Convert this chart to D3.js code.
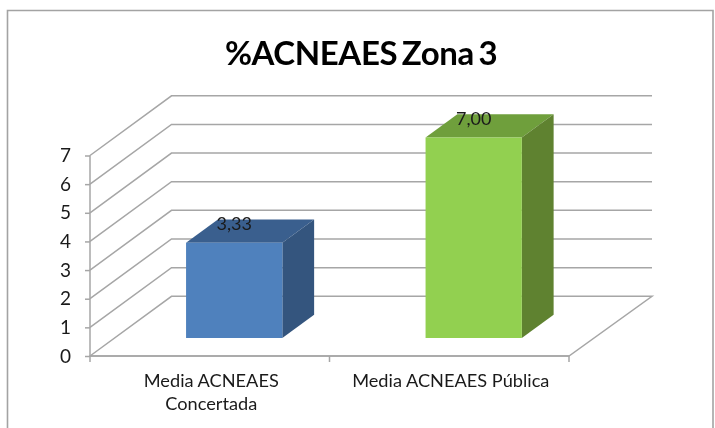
<!DOCTYPE html>
<html>
<head>
<meta charset="utf-8">
<script src="https://cdn.jsdelivr.net/npm/d3@7"></script>
<style>
body { margin: 0; background: #fff; overflow: hidden; }
svg { filter: blur(0.4px); }
text { font-family: Lato, "Open Sans", sans-serif; fill: #1a1a1a; }
.axis path { display: none; }
</style>
</head>
<body>
<script>
var categories = ["Media ACNEAES Concertada", "Media ACNEAES Pública"];
var categoryLines = [["Media ACNEAES", "Concertada"], ["Media ACNEAES Pública"]];
var values = [3.33, 7.00];
var valueLabels = ["3,33", "7,00"];
var yTicks = [0, 1, 2, 3, 4, 5, 6, 7];
var title = "%ACNEAES Zona 3";
var frontColors = ["#4f81bd", "#92d050"];
var topColors = ["#3a5f8e", "#6f9f3c"];
var sideColors = ["#34557e", "#5f8230"];

var width = 715, height = 428;
var gridColor = "#a6a6a6";

var svg = d3.select("body").append("svg")
	.attr("width", width)
	.attr("height", height);

// outer frame, runs off the bottom of the picture
svg.append("path")
	.attr("d", "M7.5,428V10.5H713V428")
	.attr("fill", "none")
	.attr("stroke", "#a3a3a3")
	.attr("stroke-width", 1.6);

svg.append("text")
	.attr("x", 361)
	.attr("y", 65)
	.attr("text-anchor", "middle")
	.attr("font-size", 33)
	.attr("font-weight", 700)
	.attr("letter-spacing", -0.4)
	.attr("word-spacing", -3)
	.style("fill", "#000")
	.text(title);

var x = d3.scaleBand()
	.domain(categories)
	.range([90, 569])
	.paddingInner(0.598)
	.paddingOuter(0.299);

var y = d3.scaleLinear()
	.domain([0, 7])
	.range([356, 155.5]);

// depth into the chart: 0 is the front edge, 1 the back wall
var depthX = d3.scaleLinear().domain([0, 1]).range([0, 81.5]);
var depthY = d3.scaleLinear().domain([0, 1]).range([0, -59.7]);
var barNear = 0.3, barFar = 0.69;

var rightEnd = 652;

// side wall and back wall lines
svg.append("g").selectAll("path")
	.data(yTicks.slice(1))
	.enter().append("path")
	.attr("d", function(d) {
		return "M" + x.range()[0] + "," + y(d) +
			"L" + (x.range()[0] + depthX(1)) + "," + (y(d) + depthY(1)) +
			"L" + rightEnd + "," + (y(d) + depthY(1));
	})
	.attr("fill", "none")
	.attr("stroke", gridColor)
	.attr("stroke-width", 1.5);

// floor
svg.append("path")
	.attr("d", "M" + x.range()[0] + "," + y(0) +
		"L" + (x.range()[0] + depthX(1)) + "," + (y(0) + depthY(1)) +
		"L" + rightEnd + "," + (y(0) + depthY(1)) +
		"L" + x.range()[1] + "," + y(0) + "Z")
	.attr("fill", "none")
	.attr("stroke", gridColor)
	.attr("stroke-width", 1.5);

// y axis
var yAxis = d3.axisLeft(y)
	.tickValues(yTicks)
	.tickSize(5)
	.tickPadding(14)
	.tickFormat(d3.format("d"));

var yG = svg.append("g")
	.attr("class", "axis")
	.attr("transform", "translate(" + x.range()[0] + ",0)")
	.call(yAxis);
yG.selectAll("text").attr("font-size", 19);
yG.selectAll("line").attr("stroke", gridColor).attr("stroke-width", 1.5);

svg.append("line")
	.attr("x1", x.range()[0]).attr("x2", x.range()[0])
	.attr("y1", y(0)).attr("y2", y(7))
	.attr("stroke", gridColor)
	.attr("stroke-width", 1.5);

// x axis, ticks sit between the categories
svg.append("line")
	.attr("x1", x.range()[0]).attr("x2", x.range()[1])
	.attr("y1", y(0)).attr("y2", y(0))
	.attr("stroke", gridColor)
	.attr("stroke-width", 1.5);

svg.append("g").selectAll("line")
	.data(d3.range(categories.length + 1))
	.enter().append("line")
	.attr("x1", function(i) { return x.range()[0] + i * x.step(); })
	.attr("x2", function(i) { return x.range()[0] + i * x.step(); })
	.attr("y1", y(0))
	.attr("y2", y(0) + 6)
	.attr("stroke", gridColor)
	.attr("stroke-width", 1.5);

var xAxis = d3.axisBottom(x).tickSize(0).tickFormat("");
var xG = svg.append("g")
	.attr("class", "axis")
	.attr("transform", "translate(1.5," + y(0) + ")")
	.call(xAxis);

xG.selectAll(".tick").each(function(d, i) {
	var t = d3.select(this).select("text")
		.attr("font-size", 18.2)
		.attr("y", 31)
		.attr("dy", 0);
	categoryLines[i].forEach(function(line, j) {
		t.append("tspan")
			.attr("x", 0)
			.attr("y", 31 + j * 23)
			.text(line);
	});
});

// bars
var bars = svg.append("g").selectAll("g")
	.data(values)
	.enter().append("g");

function corner(i, value, depth, right) {
	var px = x(categories[i]) + (right ? x.bandwidth() : 0) + depthX(depth);
	var py = y(value) + depthY(depth);
	return px + "," + py;
}

bars.append("polygon")
	.attr("points", function(d, i) {
		return [corner(i, d, barNear, false), corner(i, d, barNear, true),
			corner(i, d, barFar, true), corner(i, d, barFar, false)].join(" ");
	})
	.attr("fill", function(d, i) { return topColors[i]; });

bars.append("polygon")
	.attr("points", function(d, i) {
		return [corner(i, d, barNear, true), corner(i, 0, barNear, true),
			corner(i, 0, barFar, true), corner(i, d, barFar, true)].join(" ");
	})
	.attr("fill", function(d, i) { return sideColors[i]; });

bars.append("polygon")
	.attr("points", function(d, i) {
		return [corner(i, d, barNear, false), corner(i, d, barNear, true),
			corner(i, 0, barNear, true), corner(i, 0, barNear, false)].join(" ");
	})
	.attr("fill", function(d, i) { return frontColors[i]; });

bars.append("text")
	.attr("x", function(d, i) { return x(categories[i]) + x.bandwidth() / 2 + depthX(barNear); })
	.attr("y", function(d) { return y(d) + depthY(barNear) - 13; })
	.attr("text-anchor", "middle")
	.attr("font-size", 18)
	.text(function(d, i) { return valueLabels[i]; });
</script>
</body>
</html>
